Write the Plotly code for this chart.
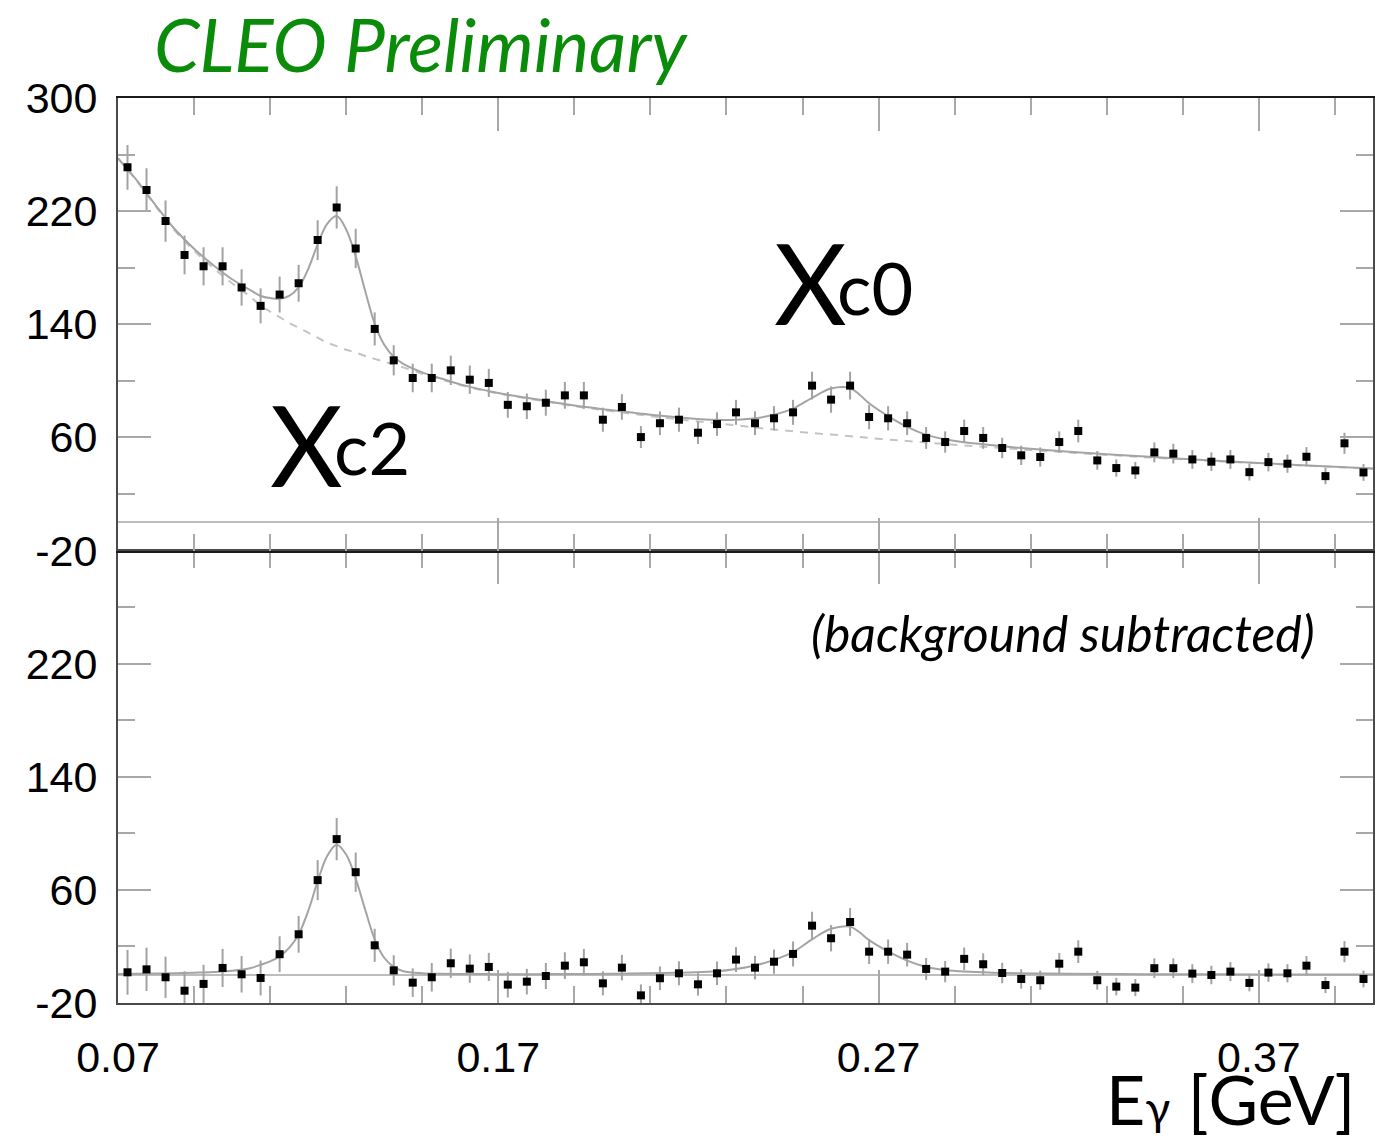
import numpy as np
import plotly.graph_objects as go

# ---------------- data ----------------
e_gamma = [0.0725, 0.0775, 0.0825, 0.0875, 0.0925, 0.0975, 0.1025, 0.1075, 0.1125, 0.1175,
           0.1225, 0.1275, 0.1325, 0.1375, 0.1425, 0.1475, 0.1525, 0.1575, 0.1625, 0.1675,
           0.1725, 0.1775, 0.1825, 0.1875, 0.1925, 0.1975, 0.2025, 0.2075, 0.2125, 0.2175,
           0.2225, 0.2275, 0.2325, 0.2375, 0.2425, 0.2475, 0.2525, 0.2575, 0.2625, 0.2675,
           0.2725, 0.2775, 0.2825, 0.2875, 0.2925, 0.2975, 0.3025, 0.3075, 0.3125, 0.3175,
           0.3225, 0.3275, 0.3325, 0.3375, 0.3425, 0.3475, 0.3525, 0.3575, 0.3625, 0.3675,
           0.3725, 0.3775, 0.3825, 0.3875, 0.3925, 0.3975]

counts_raw = [251, 235, 213, 189, 181, 181, 166, 153, 161, 169,
              199.5, 222.6, 193.6, 136.7, 114.5, 102, 102, 107.4, 100.8, 98.5,
              83, 82, 84.5, 89.7, 89.7, 72.5, 81.5, 60.2, 70, 72.5,
              63.3, 69.4, 77.7, 70, 73.5, 77.7, 96.6, 86.7, 96.6, 74.4,
              73.5, 70, 59.6, 56.7, 64.5, 59.6, 52.5, 47.3, 46.1, 56.7,
              64.5, 43.7, 38.3, 36.6, 49.4, 48.5, 44.4, 42.8, 44.4, 35.4,
              42.5, 41.4, 46.3, 32.6, 55.8, 35.2]

counts_sub = [1.7, 3.8, -1.8, -11.3, -6.5, 4.8, 0.3, -2.3, 14.5, 28.6,
              66.9, 95.9, 72.5, 20.8, 3.1, -5.6, -1.8, 8.1, 4.3, 5.5,
              -7, -4.9, -0.9, 6.4, 8.8, -6.1, 5, -14.6, -2.5, 1,
              -6.8, 1, 10.7, 5, 9.2, 14.7, 34.7, 25.8, 37.3, 16.3,
              16.3, 14.2, 4.1, 2.2, 11.2, 7.4, 1.2, -3, -3.9, 7.8,
              16.3, -3.9, -8.4, -9.1, 4.6, 4.6, 0.8, -0.2, 2.2, -5.8,
              1.5, 1, 6.4, -7.3, 16.3, -3]

# fit curves
fit_x = [0.070, 0.075, 0.080, 0.085, 0.090, 0.095, 0.100, 0.105, 0.1075, 0.110,
         0.1125, 0.115, 0.1175, 0.120, 0.1225, 0.125, 0.1275, 0.130, 0.1325, 0.135,
         0.1375, 0.140, 0.1425, 0.145, 0.150, 0.155, 0.160, 0.170, 0.180, 0.190,
         0.200, 0.210, 0.220, 0.2275, 0.2325, 0.2375, 0.2425, 0.2475, 0.2525, 0.2575,
         0.2625, 0.265, 0.2675, 0.2725, 0.2775, 0.2825, 0.2875, 0.2925, 0.300, 0.310,
         0.320, 0.340, 0.360, 0.380, 0.400]
fit_bg = [257, 241, 223, 206, 192, 180, 169, 159, 153, 149,
          145, 141, 137.5, 134, 130.5, 127, 124.5, 122, 120, 117.5,
          115.5, 113.5, 111.5, 109.5, 105, 101, 97, 91, 86.5, 82,
          78.5, 75, 72, 70, 68.5, 67, 65.5, 64.3, 63, 62,
          60.8, 60.2, 59.6, 58.5, 57.4, 56.3, 55.3, 54.3, 53, 51,
          49.3, 46, 43, 40.3, 37.8]
fit_sig = [0.5, 0.6, 0.8, 1.0, 1.4, 1.9, 2.8, 4.8, 7, 9.5,
           13, 19, 28.5, 45, 66, 84, 92, 85, 68, 46,
           25, 12, 5.5, 2.5, 1.0, 0.6, 0.5, 0.4, 0.4, 0.5,
           0.7, 1.0, 1.6, 2.4, 4, 6.5, 10.5, 16, 25, 32.5,
           34, 30, 24.5, 16.5, 10, 5.5, 3.3, 2.2, 1.4, 0.9,
           0.6, 0.4, 0.3, 0.2, 0.2]

y_ticks_top = [-20, 60, 140, 220, 300]
y_labels_top = ["-20", "60", "140", "220", "300"]
y_ticks_bot = [-20, 60, 140, 220]
y_labels_bot = ["-20", "60", "140", "220"]
x_ticks = [0.07, 0.17, 0.27, 0.37]
x_labels = ["0.07", "0.17", "0.27", "0.37"]

# Poisson errors of the raw counts (same for the subtracted spectrum)
errors = np.sqrt(np.array(counts_raw))
fit_total = np.array(fit_bg) + np.array(fit_sig)

# ---------------- figure ----------------
fig = go.Figure()

ERR = dict(type="data", array=errors, visible=True, color="#a2a2a2", thickness=2, width=0)
MK = dict(symbol="square", size=8, color="black")

# top panel
fig.add_trace(go.Scatter(x=fit_x, y=fit_bg, mode="lines", xaxis="x2", yaxis="y",
                         line=dict(color="#c4c4c4", width=2, dash="8px,7px", shape="spline"),
                         showlegend=False, hoverinfo="skip"))
fig.add_trace(go.Scatter(x=fit_x, y=fit_total, mode="lines", xaxis="x2", yaxis="y",
                         line=dict(color="#a4a4a4", width=2, shape="spline"),
                         showlegend=False, hoverinfo="skip"))
fig.add_trace(go.Scatter(x=e_gamma, y=counts_raw, mode="markers", xaxis="x2", yaxis="y",
                         marker=MK, error_y=ERR, showlegend=False))

# bottom panel
fig.add_trace(go.Scatter(x=fit_x, y=fit_sig, mode="lines", xaxis="x", yaxis="y2",
                         line=dict(color="#a4a4a4", width=2, shape="spline"),
                         showlegend=False, hoverinfo="skip"))
fig.add_trace(go.Scatter(x=e_gamma, y=counts_sub, mode="markers", xaxis="x", yaxis="y2",
                         marker=MK, error_y=ERR, showlegend=False))

TICKFONT = dict(family="Liberation Sans, Arial, sans-serif", size=43, color="black")
FRAME = "#4a4a4a"
TICKC = "#a8a8a8"

xcommon = dict(range=[0.07, 0.40], tickmode="array", tickvals=x_ticks, ticktext=x_labels,
               ticks="inside", ticklen=33, tickwidth=2, tickcolor=TICKC,
               showline=True, linecolor=FRAME, linewidth=2, mirror="ticks",
               showgrid=False, zeroline=False,
               minor=dict(tickmode="linear", tick0=0.07, dtick=0.02, ticks="inside",
                          ticklen=17, tickwidth=2, tickcolor=TICKC, showgrid=False))
ycommon = dict(range=[-20, 300], ticks="inside", ticklen=33, tickwidth=2, tickcolor=TICKC,
               showline=True, linecolor=FRAME, linewidth=2, mirror="ticks",
               showgrid=False, zeroline=True, zerolinecolor="#bdbdbd", zerolinewidth=1.5,
               tickfont=TICKFONT, ticklabelstandoff=10,
               minor=dict(tickmode="linear", tick0=-20, dtick=40, ticks="inside",
                          ticklen=17, tickwidth=2, tickcolor=TICKC, showgrid=False))

fig.update_layout(
    width=1389, height=1141,
    margin=dict(l=118, r=16, t=98, b=138),
    paper_bgcolor="white", plot_bgcolor="white",
    xaxis=dict(**xcommon, anchor="y2", tickfont=TICKFONT, ticklabelstandoff=15),
    xaxis2=dict(**xcommon, anchor="y", matches="x", showticklabels=False),
    yaxis=dict(**ycommon, domain=[0.5, 1.0], anchor="x2",
               tickmode="array", tickvals=y_ticks_top, ticktext=y_labels_top),
    yaxis2=dict(**ycommon, domain=[0.0, 0.5], anchor="x",
               tickmode="array", tickvals=y_ticks_bot, ticktext=y_labels_bot),
    showlegend=False,
)
# darker separator between the two panels
fig.update_xaxes(selector=dict(anchor="y"), linecolor="#1a1a1a")

GILL = "Lato, 'Open Sans', sans-serif"
ann = [
    dict(text="<i>CLEO Preliminary</i>", xref="paper", yref="paper",
         x=(152 - 118) / 1255, y=(1003 - 44) / 905, xanchor="left", yanchor="middle",
         font=dict(family=GILL, size=73, color="#0a8c0a")),
    dict(text="Χ", xref="x2", yref="y", x=0.1195, y=56, xanchor="center", yanchor="middle",
         font=dict(family=GILL, size=112, color="black")),
    dict(text="c2", xref="x2", yref="y", x=0.1368, y=53, xanchor="center", yanchor="middle",
         font=dict(family=GILL, size=72, color="black")),
    dict(text="Χ", xref="x2", yref="y", x=0.2522, y=170, xanchor="center", yanchor="middle",
         font=dict(family=GILL, size=112, color="black")),
    dict(text="c0", xref="x2", yref="y", x=0.269, y=166, xanchor="center", yanchor="middle",
         font=dict(family=GILL, size=72, color="black")),
    dict(text="<i>(background subtracted)</i>", xref="x", yref="y2", x=0.3184, y=242,
         xanchor="center", yanchor="middle",
         font=dict(family=GILL, size=50, color="black")),
    dict(text="E<span style='font-size:46px'>γ</span> [GeV]", xref="paper", yref="paper",
         x=(1357 - 118) / 1255, y=(1003 - 1098) / 905, xanchor="right", yanchor="middle",
         font=dict(family=GILL, size=68, color="black")),
]
for a in ann:
    a["showarrow"] = False
fig.update_layout(annotations=ann)

fig.write_html("out.html")
